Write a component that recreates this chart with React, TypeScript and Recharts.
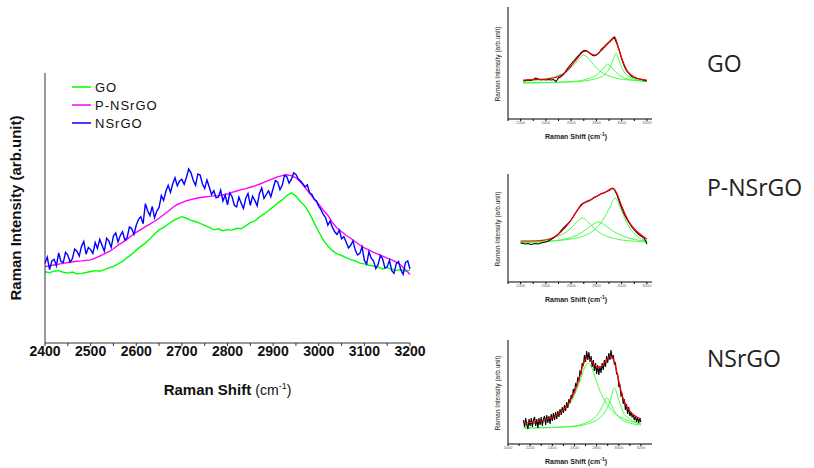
import { Label, Legend, Line, LineChart, XAxis, YAxis } from "recharts";

// ---- main comparison chart (2400-3200 cm-1) ----
const MAIN_START = 2400;
const MAIN_TICKS = [
  2400, 2450, 2500, 2550, 2600, 2650, 2700, 2750, 2800, 2850, 2900, 2950,
  3000, 3050, 3100, 3150, 3200,
];

// every 10 cm-1
const GO_MAIN = [
  26.4, 26.0, 26.6, 26.8, 26.2, 25.9, 26.3, 25.6, 25.8, 26.1, 26.5, 26.8,
  26.6, 27.2, 27.8, 28.4, 29.3, 30.2, 31.6, 32.8, 34.4, 35.8, 37.0, 38.6,
  40.4, 41.9, 42.8, 44.0, 45.2, 46.1, 46.8, 46.2, 45.4, 45.0, 44.3, 43.6,
  42.8, 41.9, 42.3, 41.6, 42.0, 41.8, 42.5, 42.3, 43.4, 44.6, 45.2, 46.6,
  47.8, 49.1, 50.4, 51.8, 53.0, 54.6, 55.6, 54.4, 52.3, 50.6, 47.9, 44.5,
  41.2, 38.1, 35.9, 34.2, 33.0, 32.4, 31.6, 30.9, 30.4, 29.6, 29.3, 28.8,
  28.5, 28.1, 27.4, 27.9, 27.3, 26.9, 27.2, 26.6, 27.0,
];

// every 10 cm-1
const P_NSRGO_MAIN = [
  28.3, 28.6, 28.9, 29.2, 29.5, 29.8, 30.1, 30.3, 30.4, 30.6, 30.8, 31.4,
  32.2, 33.0, 33.8, 34.9, 36.2, 37.3, 38.4, 39.8, 41.0, 42.0, 43.1, 44.0,
  45.1, 46.2, 47.5, 48.8, 50.2, 51.3, 52.0, 52.7, 53.1, 53.5, 53.9, 54.1,
  54.3, 54.5, 54.6, 54.8, 55.2, 55.8, 56.3, 56.8, 57.2, 57.7, 58.2, 58.8,
  59.5, 60.2, 60.9, 61.5, 62.0, 62.3, 62.0, 61.2, 59.6, 57.6, 55.4, 53.3,
  51.4, 49.2, 47.3, 44.6, 42.6, 41.2, 39.9, 38.8, 37.5, 36.3, 35.2, 34.4,
  33.6, 32.9, 32.2, 31.4, 30.8, 30.0, 28.8, 27.2, 25.4,
];

// every 5 cm-1 (noisy spectrum)
const NSRGO_MAIN = [
  29.5, 31.8, 27.2, 30.4, 31.0, 28.6, 33.4, 30.2, 29.8, 33.6, 32.6, 30.0,
  31.2, 34.8, 34.0, 32.2, 35.8, 37.6, 32.9, 35.4, 34.6, 33.2, 37.2, 35.0,
  38.4, 36.2, 34.0, 38.8, 37.8, 35.4, 39.6, 40.8, 37.4, 39.8, 41.2, 38.2,
  39.0, 43.0, 42.4, 40.2, 43.6, 45.8, 46.8, 44.2, 51.6, 49.0, 47.2, 50.6,
  46.4, 48.8, 50.2, 54.6, 52.8, 56.2, 58.4, 55.8, 59.0, 61.2, 58.2, 60.0,
  60.6, 58.8, 61.4, 64.4, 63.0, 60.2, 58.4, 62.6, 62.2, 59.0, 57.2, 60.4,
  57.8, 55.0, 56.4, 53.8, 54.0, 56.6, 52.6, 54.8, 51.2, 55.6, 54.2, 51.0,
  50.4, 54.0, 51.8, 49.8, 53.6, 55.4, 51.0, 54.4, 52.8, 50.8, 55.4, 57.4,
  53.6, 55.0, 56.4, 54.2, 57.2, 60.2, 59.6, 56.8, 58.4, 62.2, 61.6, 59.2,
  60.6, 63.0, 62.4, 60.8, 60.0, 59.0, 57.8, 58.6, 55.6, 55.0, 53.2, 52.6,
  50.6, 49.4, 47.6, 46.4, 43.6, 45.2, 42.8, 41.2, 40.2, 41.8, 38.6, 39.4,
  37.4, 35.2, 36.2, 37.8, 34.4, 32.6, 33.2, 35.6, 30.6, 29.2, 33.8, 31.4,
  30.4, 27.6, 29.0, 32.4, 31.2, 27.8, 28.2, 30.6, 26.8, 25.8, 29.4, 30.2,
  27.0, 25.4, 29.8, 30.4, 27.4,
];

const MAIN_SERIES = [
  { key: "go", name: "GO", color: "#00ff00", step: 10, values: GO_MAIN },
  { key: "pn", name: "P-NSrGO", color: "#ff00ff", step: 10, values: P_NSRGO_MAIN },
  { key: "ns", name: "NSrGO", color: "#0000ff", step: 5, values: NSRGO_MAIN },
];

// ---- fitted insets: [shift, height] pairs ----
type Pt = [number, number];

const GO_RAW: Pt[] = [
  [2220, 38], [2240, 38.5], [2260, 39], [2280, 38.5], [2300, 39.5], [2320, 41],
  [2340, 40], [2360, 39], [2380, 39.5], [2400, 39], [2420, 39.5], [2440, 39],
  [2460, 39.5], [2480, 37.5], [2500, 41], [2520, 42.5], [2540, 44.5], [2560, 48.5],
  [2580, 52], [2600, 55], [2620, 58], [2640, 61], [2660, 63.5], [2680, 66.5],
  [2700, 68.5], [2720, 68.5], [2740, 66.5], [2760, 64.5], [2780, 63], [2800, 64],
  [2820, 66], [2840, 70], [2860, 72], [2880, 74.5], [2900, 77], [2920, 79.5],
  [2940, 82], [2960, 76], [2980, 69], [3000, 60], [3020, 53], [3040, 48],
  [3060, 45], [3080, 42.5], [3100, 41.5], [3120, 40.5], [3140, 40], [3160, 39.5],
  [3180, 38.5], [3200, 38],
];
const GO_FIT: Pt[] = [
  [2220, 39], [2300, 39.5], [2400, 40], [2500, 42.5], [2550, 46], [2600, 53],
  [2650, 61], [2700, 67.5], [2720, 68], [2760, 65], [2790, 64], [2830, 67.5],
  [2880, 74], [2920, 79], [2945, 82], [2970, 73], [3000, 61], [3040, 49],
  [3080, 43.5], [3130, 40.5], [3200, 39],
];
const GO_PEAK1: Pt[] = [
  [2220, 37.5], [2300, 38.5], [2400, 40], [2500, 43.5], [2550, 46.5], [2600, 51.5],
  [2650, 58], [2700, 64], [2750, 58.5], [2800, 51], [2850, 46], [2900, 43],
  [2950, 41], [3000, 39.8], [3100, 38.6], [3200, 38],
];
const GO_PEAK2: Pt[] = [
  [2220, 36], [2400, 36.5], [2600, 37.5], [2700, 39], [2750, 41], [2800, 44],
  [2850, 50], [2890, 55], [2930, 50], [2980, 44], [3050, 40], [3100, 38.8],
  [3200, 37.5],
];
const GO_PEAK3: Pt[] = [
  [2220, 36], [2400, 36.3], [2600, 37], [2700, 38], [2800, 40.5], [2850, 43],
  [2900, 50], [2930, 58], [2955, 66], [2980, 58], [3010, 49], [3050, 43],
  [3100, 40], [3200, 37.5],
];

const PN_RAW: Pt[] = [
  [2200, 39], [2220, 38.5], [2240, 38], [2260, 38.5], [2280, 37.5], [2300, 38],
  [2320, 38.5], [2340, 38], [2360, 39], [2380, 39.5], [2400, 40], [2420, 41],
  [2440, 42.5], [2460, 44], [2480, 46], [2500, 48], [2520, 51.5], [2540, 54],
  [2560, 56.5], [2580, 59], [2600, 62], [2620, 66], [2640, 70], [2660, 74],
  [2680, 77.5], [2700, 79], [2720, 80], [2740, 81], [2760, 82.5], [2780, 84.5],
  [2800, 85.5], [2820, 87], [2840, 88.5], [2860, 89], [2880, 90.5], [2900, 91.5],
  [2920, 93.5], [2940, 93], [2960, 88], [2980, 81], [3000, 74], [3020, 68],
  [3040, 63], [3060, 59], [3080, 55], [3100, 52], [3120, 49.5], [3140, 47],
  [3160, 45.5], [3180, 43.5], [3200, 38],
];
const PN_FIT: Pt[] = [
  [2200, 41], [2300, 41], [2400, 42], [2500, 48], [2600, 62], [2650, 72],
  [2700, 79], [2760, 82.5], [2820, 87], [2880, 90.5], [2930, 94], [2960, 89],
  [3000, 76], [3050, 62], [3100, 53], [3150, 47.5], [3200, 43],
];
const PN_PEAK1: Pt[] = [
  [2200, 40.5], [2400, 42.5], [2500, 46], [2550, 49], [2600, 54], [2650, 60.5],
  [2690, 64], [2730, 60.5], [2780, 54], [2830, 49], [2900, 45], [3000, 42],
  [3100, 40.8], [3200, 40],
];
const PN_PEAK2: Pt[] = [
  [2200, 39.5], [2400, 40.5], [2500, 41.8], [2600, 44.5], [2650, 47], [2700, 51],
  [2760, 56.5], [2817, 60], [2870, 56.5], [2930, 51], [3000, 46.5], [3100, 42.5],
  [3200, 41],
];
const PN_PEAK3: Pt[] = [
  [2200, 39.5], [2400, 40.5], [2500, 41.5], [2600, 43], [2700, 46], [2750, 49],
  [2800, 54], [2850, 62], [2900, 73], [2948, 84], [2990, 74], [3030, 62],
  [3070, 53], [3110, 47], [3150, 43.5], [3200, 41],
];

const NS_RAW: Pt[] = [
  [2140, 24], [2150, 17], [2160, 26], [2170, 19], [2180, 15], [2190, 25],
  [2200, 18], [2210, 26], [2220, 17], [2230, 24], [2240, 27], [2250, 18],
  [2260, 25], [2270, 16], [2280, 26], [2290, 19], [2300, 27], [2310, 18],
  [2320, 25], [2330, 28], [2340, 19], [2350, 29], [2360, 21], [2370, 28],
  [2380, 20], [2390, 30], [2400, 23], [2410, 31], [2420, 24], [2430, 32],
  [2440, 25], [2450, 33], [2460, 27], [2470, 35], [2480, 29], [2490, 37],
  [2500, 31], [2510, 39], [2520, 33], [2530, 42], [2540, 36], [2550, 45],
  [2560, 41], [2570, 49], [2580, 46], [2590, 55], [2600, 51], [2610, 60],
  [2620, 58], [2630, 66], [2640, 64], [2650, 73], [2660, 71], [2670, 81],
  [2680, 78], [2690, 89], [2700, 82], [2710, 93], [2720, 84], [2730, 92],
  [2740, 82], [2750, 88], [2760, 77], [2770, 84], [2780, 73], [2790, 81],
  [2800, 70], [2810, 79], [2820, 69], [2830, 78], [2840, 71], [2850, 81],
  [2860, 74], [2870, 84], [2880, 77], [2890, 88], [2900, 81], [2910, 91],
  [2920, 84], [2930, 94], [2940, 85], [2950, 89], [2960, 80], [2970, 81],
  [2980, 70], [2990, 70], [3000, 58], [3010, 59], [3020, 48], [3030, 50],
  [3040, 40], [3050, 45], [3060, 34], [3070, 40], [3080, 30], [3090, 37],
  [3100, 28], [3110, 32], [3120, 27], [3130, 29], [3140, 24], [3150, 28],
  [3160, 22], [3170, 27], [3180, 21], [3190, 26], [3200, 22],
];
const NS_FIT: Pt[] = [
  [2140, 21], [2200, 21.5], [2300, 23], [2400, 26.5], [2450, 29.5], [2500, 34],
  [2550, 41], [2600, 52], [2650, 68], [2680, 80], [2710, 86], [2740, 85],
  [2780, 79], [2810, 76], [2850, 78], [2890, 84], [2920, 88], [2940, 87],
  [2970, 78], [3000, 63], [3030, 49], [3060, 40], [3100, 33], [3150, 28],
  [3200, 25],
];
const NS_PEAK1: Pt[] = [
  [2140, 19], [2200, 20], [2300, 22], [2400, 26], [2500, 33], [2550, 39],
  [2600, 49], [2650, 63], [2690, 76], [2720, 81], [2750, 78], [2780, 69],
  [2820, 56], [2870, 44], [2920, 36], [2970, 30], [3050, 25], [3100, 23],
  [3200, 20],
];
const NS_PEAK2: Pt[] = [
  [2140, 16], [2400, 16.5], [2600, 18], [2700, 21], [2780, 26], [2830, 33],
  [2870, 42], [2890, 46], [2920, 42], [2960, 33], [3010, 26], [3100, 21],
  [3200, 19],
];
const NS_PEAK3: Pt[] = [
  [2140, 16], [2400, 16.5], [2600, 17.5], [2700, 19.5], [2800, 24], [2870, 31],
  [2920, 42], [2960, 56], [3000, 44], [3040, 32], [3100, 25], [3200, 20],
];

const INSET_TICKS_A = [2100, 2200, 2300, 2400, 2500, 2600, 2700, 2800, 2900, 3000, 3100, 3200];
const INSET_TICKS_B = [2000, 2100, 2200, 2300, 2400, 2500, 2600, 2700, 2800, 2900, 3000, 3100, 3200];

const SIDE_LABELS = [
  { text: "GO", top: 47 },
  { text: "P-NSrGO", top: 171 },
  { text: "NSrGO", top: 342 },
];

const FONT = "'Liberation Sans', Arial, sans-serif";

const toRows = (pts: Pt[]) => pts.map(([x, y]) => ({ x, y }));

function MainLegend() {
  return (
    <div style={{ fontFamily: FONT, fontSize: 13, letterSpacing: 1, color: "#111" }}>
      {MAIN_SERIES.map((s) => (
        <div key={s.key} style={{ display: "flex", alignItems: "center", height: 18 }}>
          <svg width={20} height={4} style={{ marginRight: 3 }}>
            <line x1={0} y1={2} x2={19} y2={2} stroke={s.color} strokeWidth={1.5} />
          </svg>
          <span>{s.name}</span>
        </div>
      ))}
    </div>
  );
}

function MainChart() {
  return (
    <LineChart
      width={430}
      height={410}
      margin={{ top: 73, right: 20, bottom: 17, left: 10 }}
    >
      <XAxis
        dataKey="x"
        type="number"
        domain={[2400, 3200]}
        ticks={MAIN_TICKS}
        interval={0}
        tickFormatter={(v: number) => (v % 100 === 0 ? `${v}` : "")}
        tickSize={3}
        tickMargin={0}
        height={50}
        stroke="#333"
        tick={{ fill: "#111", fontSize: 14, fontWeight: 700, fontFamily: FONT }}
      >
        <Label
          content={(props: any) => {
            const vb = props.viewBox;
            return (
              <text
                x={vb.x + vb.width / 2}
                y={vb.y + 52}
                textAnchor="middle"
                fontFamily={FONT}
                fill="#111"
              >
                <tspan fontSize={15} fontWeight={700}>Raman Shift </tspan>
                <tspan fontSize={14}>(cm</tspan>
                <tspan fontSize={9} dy={-6}>-1</tspan>
                <tspan fontSize={14} dy={6}>)</tspan>
              </text>
            );
          }}
        />
      </XAxis>
      <YAxis
        type="number"
        domain={[0, 100]}
        width={35}
        tick={false}
        tickLine={false}
        stroke="#333"
      >
        <Label
          content={(props: any) => {
            const vb = props.viewBox;
            const cx = vb.x + 5;
            const cy = vb.y + vb.height / 2;
            return (
              <text
                x={cx}
                y={cy}
                transform={`rotate(-90, ${cx}, ${cy})`}
                textAnchor="middle"
                dominantBaseline="central"
                fontFamily={FONT}
                fontSize={15}
                fontWeight={700}
                fill="#111"
              >
                Raman Intensity (arb.unit)
              </text>
            );
          }}
        />
      </YAxis>
      <Legend
        content={<MainLegend />}
        layout="vertical"
        align="center"
        verticalAlign="middle"
        wrapperStyle={{ left: 72, top: 78, width: "auto", height: "auto" }}
      />
      {MAIN_SERIES.map((s) => (
        <Line
          key={s.key}
          data={s.values.map((v, i) => ({ x: MAIN_START + i * s.step, y: v }))}
          dataKey="y"
          name={s.name}
          stroke={s.color}
          strokeWidth={1.4}
          dot={false}
          type="linear"
          isAnimationActive={false}
        />
      ))}
    </LineChart>
  );
}

interface InsetProps {
  top: number;
  height: number;
  marginTop: number;
  marginBottom: number;
  axisHeight: number;
  plotHeight: number;
  domain: [number, number];
  ticks: number[];
  raw: Pt[];
  fit: Pt[];
  peaks: Pt[][];
}

function FitInset(p: InsetProps) {
  return (
    <div style={{ position: "absolute", left: 488, top: p.top }}>
      <LineChart
        width={172}
        height={p.height}
        margin={{ top: p.marginTop, right: 8, bottom: p.marginBottom, left: 6 }}
      >
        <XAxis
          dataKey="x"
          type="number"
          domain={p.domain}
          ticks={p.ticks}
          interval={0}
          allowDataOverflow
          tickFormatter={(v: number) => (v % 200 === 0 ? `${v}` : "")}
          tickSize={2}
          tickMargin={0}
          height={p.axisHeight}
          stroke="#000"
          tick={{ fill: "#666", fontSize: 4, fontFamily: FONT }}
        >
          <Label
            content={(props: any) => {
              const vb = props.viewBox;
              return (
                <text
                  x={vb.x + vb.width / 2 - 4}
                  y={vb.y + 20}
                  textAnchor="middle"
                  fontFamily={FONT}
                  fill="#222"
                  fontSize={7}
                  fontWeight={700}
                >
                  Raman Shift (cm
                  <tspan fontSize={5} dy={-3}>-1</tspan>
                  <tspan dy={3}>)</tspan>
                </text>
              );
            }}
          />
        </XAxis>
        <YAxis
          type="number"
          domain={[0, p.plotHeight]}
          width={14}
          tick={false}
          tickLine={false}
          stroke="#000"
        >
          <Label
            content={(props: any) => {
              const vb = props.viewBox;
              const cx = vb.x + 3;
              const cy = vb.y + vb.height / 2 + 1;
              return (
                <text
                  x={cx}
                  y={cy}
                  transform={`rotate(-90, ${cx}, ${cy})`}
                  textAnchor="middle"
                  dominantBaseline="central"
                  fontFamily={FONT}
                  fontSize={6.5}
                  fill="#222"
                >
                  Raman Intensity (arb.unit)
                </text>
              );
            }}
          />
        </YAxis>
        {p.peaks.map((pk, i) => (
          <Line
            key={`peak-${i}`}
            data={toRows(pk)}
            dataKey="y"
            stroke="#33ff33"
            strokeWidth={0.9}
            dot={false}
            type="monotone"
            isAnimationActive={false}
          />
        ))}
        <Line
          data={toRows(p.raw)}
          dataKey="y"
          stroke="#000"
          strokeWidth={1.1}
          dot={false}
          type="linear"
          isAnimationActive={false}
        />
        <Line
          data={toRows(p.fit)}
          dataKey="y"
          stroke="#ff0000"
          strokeWidth={1.2}
          dot={false}
          type="monotone"
          isAnimationActive={false}
        />
      </LineChart>
    </div>
  );
}

export default function App() {
  return (
    <div
      style={{
        position: "absolute",
        left: 0,
        top: 0,
        width: 814,
        height: 468,
        background: "#fff",
        overflow: "hidden",
      }}
    >
      <div style={{ position: "absolute", left: 0, top: 0 }}>
        <MainChart />
      </div>
      <FitInset
        top={0}
        height={150}
        marginTop={7}
        marginBottom={7}
        axisHeight={24}
        plotHeight={112}
        domain={[2100, 3240]}
        ticks={INSET_TICKS_A}
        raw={GO_RAW}
        fit={GO_FIT}
        peaks={[GO_PEAK1, GO_PEAK2, GO_PEAK3]}
      />
      <FitInset
        top={165}
        height={150}
        marginTop={9}
        marginBottom={9}
        axisHeight={24}
        plotHeight={108}
        domain={[2100, 3240]}
        ticks={INSET_TICKS_A}
        raw={PN_RAW}
        fit={PN_FIT}
        peaks={[PN_PEAK1, PN_PEAK2, PN_PEAK3]}
      />
      <FitInset
        top={332}
        height={136}
        marginTop={8}
        marginBottom={2}
        axisHeight={22}
        plotHeight={104}
        domain={[2000, 3300]}
        ticks={INSET_TICKS_B}
        raw={NS_RAW}
        fit={NS_FIT}
        peaks={[NS_PEAK1, NS_PEAK2, NS_PEAK3]}
      />
      {SIDE_LABELS.map((l) => (
        <div
          key={l.text}
          style={{
            position: "absolute",
            left: 707,
            top: l.top,
            fontFamily: "'Open Sans', 'Noto Sans', sans-serif",
            fontSize: 23,
            lineHeight: "32px",
            color: "#222",
          }}
        >
          {l.text}
        </div>
      ))}
    </div>
  );
}
